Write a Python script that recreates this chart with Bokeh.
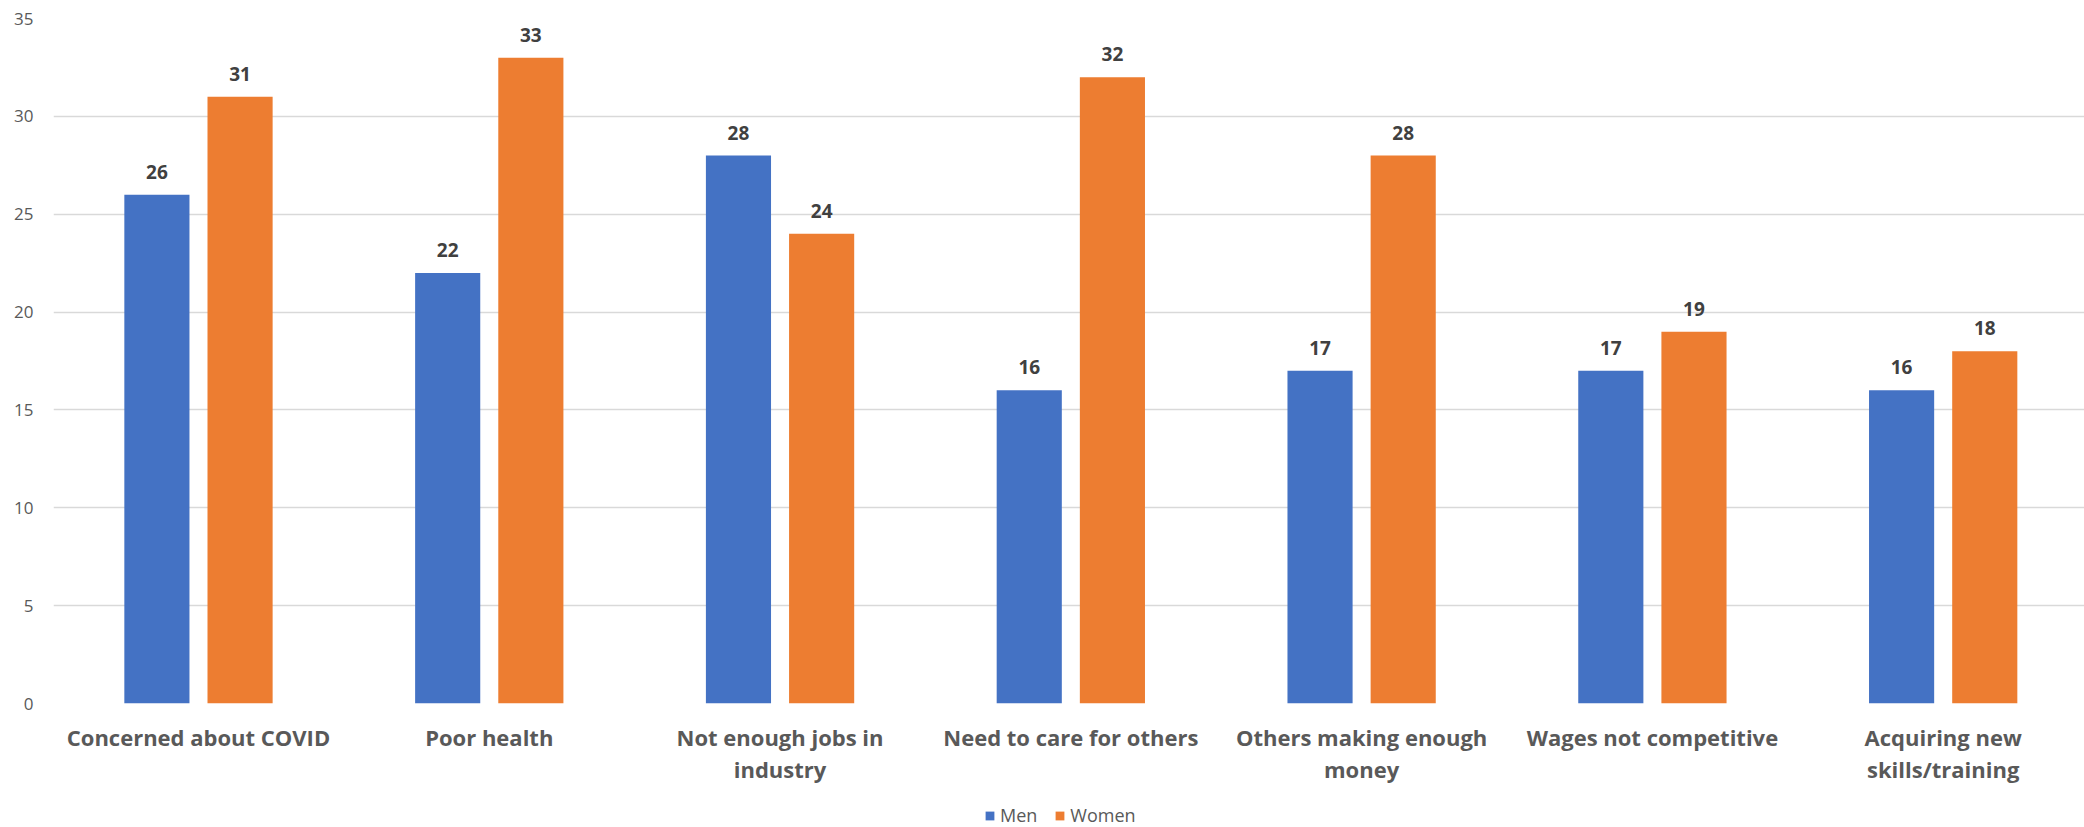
import numpy as np
from bokeh.plotting import figure
from bokeh.layouts import column
from bokeh.models import ColumnDataSource, Range1d, FixedTicker, Legend, LegendItem
from bokeh.transform import dodge
from bokeh.core.properties import value
from bokeh.embed import file_html
from bokeh.resources import INLINE

categories = ["Concerned about COVID", "Poor health", "Not enough jobs in\nindustry",
              "Need to care for others", "Others making enough\nmoney",
              "Wages not competitive", "Acquiring new\nskills/training"]
men = [26, 22, 28, 16, 17, 17, 16]
women = [31, 33, 24, 32, 28, 19, 18]
y_ticks = [0, 5, 10, 15, 20, 25, 30, 35]
series_names = ["Men", "Women"]

BLUE = "#4472C4"
ORANGE = "#ED7D31"
FONT = "Open Sans"

xs = list(range(len(categories)))
src = ColumnDataSource(dict(
    x=xs, men=men, women=women,
    men_lbl=[str(v) for v in men], women_lbl=[str(v) for v in women],
))

p = figure(width=2084, height=795, output_backend="svg", toolbar_location=None,
           x_range=Range1d(-0.4986, 6.486), y_range=Range1d(0, 35),
           min_border_left=53, min_border_right=0, min_border_top=18, min_border_bottom=92)
p.outline_line_color = None
p.xgrid.grid_line_color = None
p.ygrid.grid_line_color = "#D9D9D9"
p.ygrid.grid_line_width = 1.5

p.yaxis.ticker = FixedTicker(ticks=y_ticks)
p.yaxis.axis_line_color = None
p.yaxis.major_tick_line_color = None
p.yaxis.minor_tick_line_color = None
p.yaxis.major_tick_out = 0
p.yaxis.major_tick_in = 0
p.yaxis.minor_tick_out = 0
p.yaxis.major_label_standoff = 20
p.yaxis.major_label_text_font = FONT
p.yaxis.major_label_text_font_size = "17px"
p.yaxis.major_label_text_color = "#595959"

p.xaxis.ticker = FixedTicker(ticks=xs)
p.xaxis.major_label_overrides = {i: c for i, c in zip(xs, categories)}
p.xaxis.axis_line_color = None
p.xaxis.major_tick_line_color = None
p.xaxis.minor_tick_line_color = None
p.xaxis.major_tick_out = 0
p.xaxis.major_tick_in = 0
p.xaxis.minor_tick_out = 0
p.xaxis.major_label_standoff = 18
p.xaxis.major_label_text_font = FONT
p.xaxis.major_label_text_font_size = "22px"
p.xaxis.major_label_text_font_style = "bold"
p.xaxis.major_label_text_color = "#595959"
p.xaxis.major_label_text_line_height = 1.07

off = 0.143
bw = 0.224
p.vbar(x=dodge("x", -off, range=p.x_range), top="men", width=bw, source=src,
       fill_color=BLUE, line_color=None)
p.vbar(x=dodge("x", off, range=p.x_range), top="women", width=bw, source=src,
       fill_color=ORANGE, line_color=None)

for col, lbl, o in (("men", "men_lbl", -off), ("women", "women_lbl", off)):
    p.text(x=dodge("x", o, range=p.x_range), y=col, text=lbl, source=src,
           text_align="center", text_baseline="bottom", y_offset=-16,
           text_font=value(FONT), text_font_size="19px", text_font_style="bold",
           text_color="#404040")

# legend strip below the chart
lg = figure(width=2084, height=32, output_backend="svg", toolbar_location=None,
            x_range=Range1d(0, 1), y_range=Range1d(0, 1),
            x_axis_location=None, y_axis_location=None,
            min_border_left=0, min_border_right=0, min_border_top=0, min_border_bottom=0)
lg.outline_line_color = None
lg.grid.visible = False
dummy = ColumnDataSource(dict(x=[5], top=[5]))
d1 = lg.vbar(x="x", top="top", width=0.1, source=dummy, fill_color=BLUE, line_color=None)
d2 = lg.vbar(x="x", top="top", width=0.1, source=dummy, fill_color=ORANGE, line_color=None)

legend = Legend(items=[LegendItem(label=series_names[0], renderers=[d1]),
                       LegendItem(label=series_names[1], renderers=[d2])],
                orientation="horizontal", location=(931, 0))
legend.glyph_width = 11
legend.glyph_height = 11
legend.label_standoff = 5
legend.spacing = 17
legend.padding = 0
legend.margin = 0
legend.border_line_color = None
legend.background_fill_alpha = 0
legend.label_text_font = FONT
legend.label_text_font_size = "18px"
legend.label_text_color = "#595959"
lg.add_layout(legend)

layout = column(p, lg, spacing=0)
open("out.html", "w").write(file_html(layout, INLINE))
